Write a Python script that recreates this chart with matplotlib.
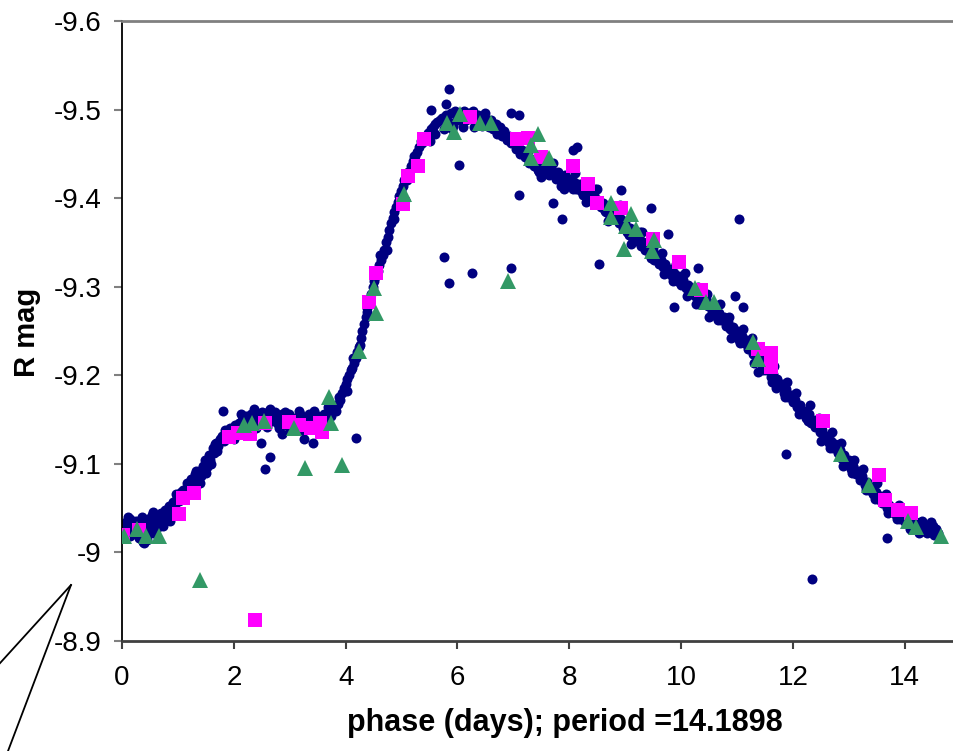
import matplotlib
matplotlib.use("Agg")
import matplotlib.pyplot as plt
from matplotlib.lines import Line2D

plt.rcParams['font.family'] = ['Liberation Sans', 'DejaVu Sans']

# navy dots: all R band observations folded on the period
dot_phase = [
    0.02, 0.05, 0.08, 0.12, 0.15, 0.18, 0.22, 0.25, 0.28, 0.32,
    0.35, 0.38, 0.40, 0.43, 0.46, 0.50, 0.53, 0.56, 0.60, 0.63,
    0.66, 0.70, 0.73, 0.76, 0.80, 0.84, 0.88, 0.92, 0.95, 0.99,
    1.02, 1.06, 1.09, 1.12, 1.16, 1.20, 1.24, 1.27, 1.31, 1.35,
    1.38, 1.42, 1.45, 1.48, 1.52, 1.55, 1.58, 1.62, 1.65, 1.68,
    1.72, 1.75, 1.78, 1.82, 1.86, 1.90, 1.94, 1.98, 2.02, 2.06,
    2.10, 2.14, 2.18, 2.22, 2.26, 2.30, 2.34, 2.38, 2.42, 2.46,
    2.50, 2.54, 2.58, 2.62, 2.66, 2.70, 2.74, 2.78, 2.82, 2.86,
    2.90, 2.94, 2.98, 3.02, 3.06, 3.10, 3.14, 3.18, 3.22, 3.26,
    3.30, 3.34, 3.38, 3.42, 3.46, 3.50, 3.54, 3.58, 3.62, 3.66,
    3.70, 3.74, 3.78, 3.82, 3.86, 3.90, 3.94, 3.97, 4.00, 4.03,
    4.06, 4.09, 4.12, 4.15, 4.18, 4.21, 4.24, 4.27, 4.30, 4.33,
    4.36, 4.39, 4.42, 4.45, 4.48, 4.51, 4.54, 4.57, 4.60, 4.63,
    4.66, 4.69, 4.72, 4.75, 4.78, 4.81, 4.84, 4.87, 4.90, 4.93,
    4.96, 4.99, 5.02, 5.05, 5.08, 5.12, 5.16, 5.20, 5.24, 5.28,
    5.32, 5.36, 5.40, 5.44, 5.48, 5.52, 5.56, 5.60, 5.64, 5.68,
    5.72, 5.76, 5.80, 5.84, 5.88, 5.92, 5.96, 6.00, 6.04, 6.08,
    6.12, 6.16, 6.20, 6.24, 6.28, 6.32, 6.36, 6.40, 6.44, 6.48,
    6.52, 6.56, 6.60, 6.64, 6.68, 6.72, 6.76, 6.80, 6.84, 6.88,
    6.92, 6.96, 7.00, 7.04, 7.08, 7.12, 7.16, 7.20, 7.24, 7.28,
    7.32, 7.36, 7.40, 7.44, 7.48, 7.52, 7.56, 7.60, 7.64, 7.68,
    7.72, 7.76, 7.80, 7.84, 7.88, 7.92, 7.96, 8.00, 8.04, 8.08,
    8.12, 8.16, 8.20, 8.24, 8.28, 8.32, 8.36, 8.40, 8.44, 8.48,
    8.52, 8.56, 8.60, 8.64, 8.68, 8.72, 8.76, 8.80, 8.84, 8.88,
    8.92, 8.96, 9.00, 9.04, 9.08, 9.12, 9.16, 9.20, 9.24, 9.28,
    9.32, 9.36, 9.40, 9.44, 9.48, 9.52, 9.56, 9.60, 9.64, 9.68,
    9.72, 9.76, 9.80, 9.84, 9.88, 9.92, 9.96, 10.00, 10.04, 10.08,
    10.12, 10.16, 10.20, 10.24, 10.28, 10.32, 10.36, 10.40, 10.44, 10.48,
    10.52, 10.56, 10.60, 10.64, 10.68, 10.72, 10.76, 10.80, 10.84, 10.88,
    10.92, 10.96, 11.00, 11.04, 11.08, 11.12, 11.16, 11.20, 11.24, 11.28,
    11.32, 11.36, 11.40, 11.44, 11.48, 11.52, 11.56, 11.60, 11.64, 11.68,
    11.72, 11.76, 11.80, 11.84, 11.88, 11.92, 11.96, 12.00, 12.04, 12.08,
    12.12, 12.16, 12.20, 12.24, 12.28, 12.32, 12.36, 12.40, 12.44, 12.48,
    12.52, 12.56, 12.60, 12.64, 12.68, 12.72, 12.76, 12.80, 12.84, 12.88,
    12.92, 12.96, 13.00, 13.04, 13.08, 13.12, 13.16, 13.20, 13.24, 13.28,
    13.32, 13.36, 13.40, 13.44, 13.48, 13.52, 13.56, 13.60, 13.64, 13.68,
    13.72, 13.76, 13.80, 13.84, 13.88, 13.92, 13.96, 14.00, 14.04, 14.08,
    14.12, 14.16, 14.20, 14.24, 14.28, 14.32, 14.36, 14.40, 14.44, 14.48,
    14.52, 14.56, 14.60, 0.10, 0.30, 0.55, 1.10, 1.40, 1.60, 1.70,
    2.00, 2.20, 2.40, 2.60, 2.80, 3.00, 3.20, 3.40, 3.60, 0.85,
    7.50, 7.70, 7.90, 8.10, 8.30, 8.50, 8.70, 8.90, 9.10, 9.30,
    9.50, 9.70, 9.90, 10.10, 10.30, 10.50, 10.70, 10.90, 11.10, 11.30,
    11.50, 11.70, 11.90, 12.10, 12.30, 12.50, 12.70, 12.90, 13.10, 13.30,
    13.50, 13.70, 13.90, 14.10, 14.30, 14.50, 5.50, 5.60, 6.30, 6.70,
    0.14, 0.36, 0.58, 0.78, 0.97, 1.18, 1.33, 1.50, 1.66, 1.84,
    2.12, 2.36, 2.64, 2.92, 3.16, 3.44, 3.68, 3.88, 4.02, 4.14,
    4.26, 4.38, 4.50, 4.62, 4.74, 4.86, 4.98, 5.10, 5.22, 5.34,
    7.26, 7.46, 7.66, 7.86, 8.06, 8.26, 8.46, 8.66, 8.86, 9.06,
    9.26, 9.46, 9.66, 9.86, 10.06, 10.26, 10.46, 10.66, 10.86, 11.06,
    11.26, 11.46, 11.66, 11.86, 12.06, 12.26, 12.46, 12.66, 12.86, 13.06,
    13.26, 13.46, 13.66, 13.86, 14.06, 14.26, 14.46, 6.10, 6.50, 5.90,
    1.80, 2.49, 2.65, 2.56, 2.87, 3.25, 3.42, 4.18, 5.84, 6.03,
    7.10, 7.71, 7.87, 5.76, 6.26, 5.84, 6.96, 6.95, 7.10, 5.79,
    8.07, 8.13, 8.92, 9.46, 9.76, 11.04, 8.53, 9.87, 10.96, 11.11,
    10.30, 11.88, 13.69, 12.34, 11.38, 11.62, 5.52, 0.40, 0.45, 5.06,
]
dot_mag = [
    -9.030, -9.022, -9.034, -9.026, -9.018, -9.031, -9.024, -9.035, -9.020, -9.028,
    -9.040, -9.012, -9.032, -9.025, -9.038, -9.030, -9.042, -9.022, -9.034, -9.028,
    -9.036, -9.044, -9.030, -9.048, -9.040, -9.052, -9.046, -9.057, -9.050, -9.062,
    -9.058, -9.068, -9.071, -9.064, -9.078, -9.072, -9.083, -9.076, -9.088, -9.082,
    -9.092, -9.086, -9.098, -9.104, -9.096, -9.110, -9.104, -9.118, -9.112, -9.124,
    -9.120, -9.128, -9.132, -9.126, -9.136, -9.130, -9.140, -9.134, -9.144, -9.138,
    -9.146, -9.150, -9.142, -9.154, -9.148, -9.156, -9.150, -9.158, -9.146, -9.154,
    -9.158, -9.150, -9.156, -9.160, -9.148, -9.154, -9.158, -9.146, -9.152, -9.156,
    -9.150, -9.144, -9.156, -9.148, -9.152, -9.142, -9.150, -9.156, -9.146, -9.152,
    -9.148, -9.156, -9.144, -9.152, -9.146, -9.154, -9.148, -9.150, -9.156, -9.152,
    -9.158, -9.154, -9.162, -9.160, -9.168, -9.172, -9.180, -9.186, -9.190, -9.196,
    -9.200, -9.206, -9.208, -9.214, -9.220, -9.226, -9.232, -9.242, -9.250, -9.258,
    -9.266, -9.276, -9.284, -9.292, -9.300, -9.306, -9.312, -9.318, -9.324, -9.330,
    -9.336, -9.342, -9.350, -9.356, -9.364, -9.372, -9.378, -9.384, -9.390, -9.396,
    -9.402, -9.408, -9.414, -9.420, -9.424, -9.430, -9.436, -9.442, -9.448, -9.452,
    -9.458, -9.462, -9.466, -9.470, -9.474, -9.478, -9.480, -9.484, -9.486, -9.488,
    -9.490, -9.478, -9.494, -9.486, -9.496, -9.482, -9.498, -9.488, -9.496, -9.490,
    -9.498, -9.488, -9.496, -9.492, -9.498, -9.486, -9.494, -9.490, -9.482, -9.492,
    -9.486, -9.480, -9.488, -9.478, -9.484, -9.474, -9.480, -9.470, -9.476, -9.466,
    -9.470, -9.462, -9.466, -9.456, -9.460, -9.450, -9.454, -9.446, -9.450, -9.440,
    -9.444, -9.436, -9.442, -9.432, -9.438, -9.428, -9.436, -9.430, -9.426, -9.434,
    -9.428, -9.422, -9.430, -9.424, -9.418, -9.426, -9.416, -9.422, -9.414, -9.418,
    -9.410, -9.416, -9.408, -9.404, -9.412, -9.400, -9.406, -9.398, -9.404, -9.394,
    -9.398, -9.390, -9.394, -9.386, -9.390, -9.380, -9.386, -9.376, -9.382, -9.372,
    -9.376, -9.366, -9.372, -9.362, -9.366, -9.356, -9.362, -9.352, -9.356, -9.346,
    -9.350, -9.342, -9.346, -9.336, -9.340, -9.330, -9.336, -9.326, -9.330, -9.322,
    -9.326, -9.316, -9.320, -9.312, -9.316, -9.306, -9.312, -9.302, -9.308, -9.298,
    -9.302, -9.294, -9.298, -9.290, -9.294, -9.286, -9.290, -9.282, -9.286, -9.278,
    -9.280, -9.272, -9.276, -9.266, -9.270, -9.262, -9.266, -9.256, -9.260, -9.252,
    -9.254, -9.246, -9.250, -9.240, -9.244, -9.236, -9.240, -9.230, -9.234, -9.224,
    -9.228, -9.218, -9.222, -9.212, -9.214, -9.206, -9.208, -9.198, -9.202, -9.194,
    -9.196, -9.188, -9.190, -9.180, -9.184, -9.176, -9.178, -9.170, -9.172, -9.164,
    -9.166, -9.158, -9.160, -9.152, -9.156, -9.146, -9.150, -9.142, -9.144, -9.136,
    -9.138, -9.130, -9.132, -9.124, -9.126, -9.118, -9.122, -9.112, -9.116, -9.106,
    -9.110, -9.100, -9.104, -9.094, -9.098, -9.088, -9.092, -9.082, -9.086, -9.076,
    -9.080, -9.070, -9.074, -9.066, -9.068, -9.060, -9.064, -9.056, -9.058, -9.050,
    -9.054, -9.046, -9.050, -9.042, -9.046, -9.038, -9.042, -9.034, -9.040, -9.032,
    -9.036, -9.028, -9.034, -9.026, -9.032, -9.024, -9.030, -9.022, -9.028, -9.024,
    -9.020, -9.026, -9.022, -9.040, -9.016, -9.046, -9.060, -9.078, -9.100, -9.114,
    -9.128, -9.136, -9.140, -9.142, -9.140, -9.138, -9.138, -9.140, -9.142, -9.036,
    -9.424, -9.440, -9.410, -9.428, -9.396, -9.410, -9.374, -9.392, -9.348, -9.362,
    -9.344, -9.314, -9.326, -9.290, -9.300, -9.266, -9.280, -9.242, -9.252, -9.214,
    -9.224, -9.186, -9.192, -9.156, -9.166, -9.126, -9.136, -9.098, -9.104, -9.070,
    -9.078, -9.044, -9.054, -9.026, -9.036, -9.030, -9.464, -9.472, -9.480, -9.472,
    -9.038, -9.020, -9.040, -9.036, -9.066, -9.066, -9.092, -9.090, -9.122, -9.138,
    -9.156, -9.162, -9.162, -9.158, -9.160, -9.160, -9.164, -9.176, -9.182, -9.220,
    -9.234, -9.272, -9.312, -9.336, -9.342, -9.376, -9.396, -9.420, -9.448, -9.464,
    -9.452, -9.430, -9.438, -9.414, -9.410, -9.418, -9.410, -9.384, -9.390, -9.358,
    -9.362, -9.332, -9.338, -9.306, -9.316, -9.280, -9.292, -9.262, -9.266, -9.236,
    -9.242, -9.206, -9.210, -9.176, -9.180, -9.148, -9.152, -9.118, -9.124, -9.090,
    -9.094, -9.060, -9.066, -9.038, -9.044, -9.022, -9.034, -9.480, -9.496, -9.478,
    -9.160, -9.124, -9.108, -9.094, -9.134, -9.128, -9.124, -9.129, -9.523, -9.438,
    -9.404, -9.394, -9.377, -9.333, -9.316, -9.304, -9.321, -9.496, -9.494, -9.506,
    -9.454, -9.458, -9.409, -9.389, -9.360, -9.377, -9.326, -9.277, -9.290, -9.277,
    -9.321, -9.111, -9.016, -8.970, -9.204, -9.192, -9.499, -9.011, -9.014, -9.398,
]

# magenta squares
sq_phase = [0.02, 0.31, 1.02, 1.09, 1.29, 1.91, 2.07, 2.29, 2.38, 2.56,
            2.99, 3.17, 3.38, 3.54, 3.58, 4.42, 4.55, 5.03, 5.11, 5.30,
            5.40, 6.23, 7.06, 7.26, 7.50, 8.07, 8.34, 8.50, 8.92, 9.50,
            9.96, 10.35, 11.38, 11.60, 11.60, 12.54, 13.54, 13.64, 13.88, 14.11]
sq_mag = [-9.020, -9.025, -9.043, -9.061, -9.067, -9.130, -9.135, -9.134, -8.924, -9.146,
          -9.147, -9.144, -9.140, -9.146, -9.136, -9.283, -9.316, -9.393, -9.425, -9.436,
          -9.467, -9.492, -9.467, -9.468, -9.446, -9.436, -9.416, -9.394, -9.389, -9.354,
          -9.328, -9.296, -9.230, -9.225, -9.209, -9.148, -9.087, -9.059, -9.048, -9.044]

# green triangles
tri_phase = [0.04, 0.27, 0.42, 0.66, 1.39, 2.18, 2.32, 2.54, 3.08, 3.28,
             3.70, 3.74, 3.94, 4.24, 4.51, 4.54, 5.04, 5.81, 5.94, 6.04,
             6.40, 6.60, 6.90, 7.31, 7.32, 7.44, 7.63, 8.74, 8.74, 8.98,
             9.01, 9.10, 9.20, 9.47, 9.52, 10.24, 10.45, 10.58, 11.28, 11.37,
             12.86, 13.36, 14.05, 14.20, 14.64]
tri_mag = [-9.019, -9.027, -9.019, -9.019, -8.969, -9.144, -9.146, -9.148, -9.141, -9.095,
           -9.175, -9.146, -9.099, -9.227, -9.299, -9.270, -9.405, -9.485, -9.475, -9.495,
           -9.485, -9.485, -9.306, -9.460, -9.445, -9.473, -9.445, -9.395, -9.379, -9.343,
           -9.368, -9.382, -9.365, -9.340, -9.353, -9.299, -9.283, -9.283, -9.238, -9.218,
           -9.111, -9.076, -9.036, -9.029, -9.019]

yticks = [-9.6, -9.5, -9.4, -9.3, -9.2, -9.1, -9.0, -8.9]
ytick_labels = ["-9.6", "-9.5", "-9.4", "-9.3", "-9.2", "-9.1", "-9", "-8.9"]
xticks = [0, 2, 4, 6, 8, 10, 12, 14]

fig = plt.figure(figsize=(9.54, 7.51), dpi=100)
ax = fig.add_axes([0.1279, 0.1465, 0.8721, 0.8255])

ax.plot(dot_phase, dot_mag, 'o', color='#000080', ms=7.2, mew=0, zorder=2)
ax.plot(sq_phase, sq_mag, 's', color='#FF00FF', ms=9.5, mew=0, zorder=3)
ax.plot(tri_phase, tri_mag, '^', color='#339966', ms=11, mew=0, zorder=4)

ax.set_xlim(0, 14.88)
ax.set_ylim(-8.9, -9.6)
ax.set_yticks(yticks)
ax.set_yticklabels(ytick_labels)
ax.set_xticks(xticks)

ax.spines['right'].set_visible(False)
ax.spines['top'].set_color('#808080')
ax.spines['top'].set_linewidth(2)
ax.spines['left'].set_color('black')
ax.spines['left'].set_linewidth(1.3)
ax.spines['bottom'].set_color('#404040')
ax.spines['bottom'].set_linewidth(2)

ax.tick_params(axis='y', direction='out', length=6, width=1.5, color='#808080',
               labelsize=20, pad=9)
ax.tick_params(axis='x', direction='out', length=6, width=1.5, color='#404040',
               labelsize=20, pad=11)

ax.set_xlabel("phase (days); period =14.1898", fontsize=22, fontweight='bold')
ax.xaxis.set_label_coords(0.532, -0.108)
ax.set_ylabel("R mag", fontsize=21, fontweight='bold')
ax.yaxis.set_label_coords(-0.097, 0.497)

# stray callout lines left of the axis
fig.add_artist(Line2D([0.0744, 0.0], [0.221, 0.117], color='black', lw=1.3))
fig.add_artist(Line2D([0.0744, 0.0084], [0.221, 0.0], color='black', lw=1.3))

fig.savefig("out.png", dpi=100)
